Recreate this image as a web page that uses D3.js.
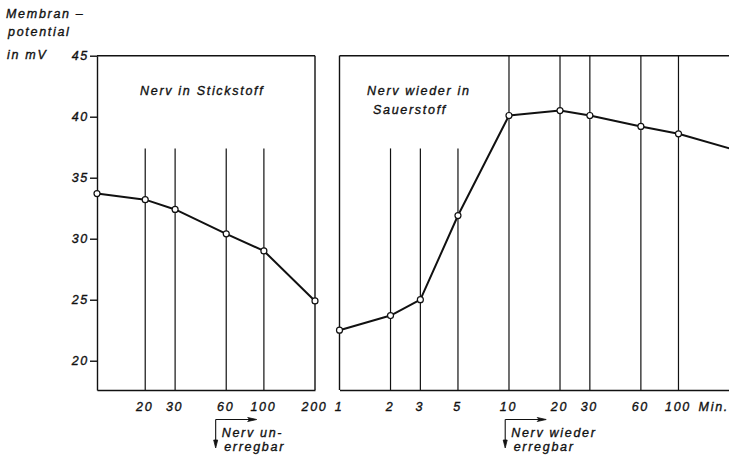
<!DOCTYPE html>
<html>
<head>
<meta charset="utf-8">
<script src="https://cdn.jsdelivr.net/npm/d3@7"></script>
<style>
  html, body { margin: 0; padding: 0; background: #fff; }
  svg { display: block; }
  text {
    font-family: "Liberation Sans", Arial, sans-serif;
    font-style: italic;
    font-size: 12.5px;
    letter-spacing: 1.7px;
    fill: #111;
    stroke: #111;
    stroke-width: 0.35px;
  }
</style>
</head>
<body>
<svg id="chart" width="729" height="464"></svg>
<script>
// Membrane potential of a nerve in nitrogen, then back in oxygen (time in minutes, log axis)
const yTicks = [20, 25, 30, 35, 40, 45];
const yDomain = [17.6, 45];

// Phase 1: nerve in nitrogen
const leftTimes  = [10.4, 20, 30, 60, 100, 200];
const leftValues = [33.7, 33.2, 32.4, 30.4, 29.0, 24.9];
const leftTickValues = [20, 30, 60, 100, 200];
const leftShortGuides = [20, 30, 60, 100];

// Phase 2: nerve back in oxygen
const rightTimes  = [1, 2, 3, 5, 10, 20, 30, 60, 100, 300];
const rightValues = [22.5, 23.7, 25.0, 31.9, 40.1, 40.5, 40.1, 39.2, 38.6, 36.7];
const rightTickValues = [1, 2, 3, 5, 10, 20, 30, 60, 100];
const rightShortGuides = [2, 3, 5];
const rightFullGuides = [10, 20, 30, 60, 100];

const shortGuideTop = 37.4;     // upper end of the short time markers (mV level)
const unexcitableAt = 52;       // minutes in nitrogen
const reexcitableAt = 9.5;      // minutes back in oxygen

const ink = "#111";
const svg = d3.select("#chart");

const y = d3.scaleLinear().domain(yDomain).range([390, 55.7]);
const xL = d3.scaleLog().domain([10.4, 200]).range([97, 315]);
const xR = d3.scaleLog().domain([1, 200]).range([339.5, 729.5]);

// ---- y axis with ticks on the left frame ----
const yAxis = svg.append("g")
  .attr("transform", `translate(${xL.range()[0]},0)`)
  .call(d3.axisLeft(y).tickValues(yTicks).tickSize(7).tickSizeOuter(0).tickPadding(0));
yAxis.selectAll("path, line").attr("stroke", ink).attr("stroke-width", 1.4);
yAxis.selectAll("text").attr("font-size", null).attr("font-family", null).attr("dx", "-1");

// ---- bottom axes (labels only, the domain line is the lower frame) ----
function bottomAxis(scale, values) {
  const g = svg.append("g")
    .attr("transform", `translate(0,${y.range()[0]})`)
    .call(d3.axisBottom(scale).tickValues(values).tickFormat(d3.format("d"))
      .tickSize(0).tickSizeOuter(0).tickPadding(12));
  g.select(".domain").attr("stroke", ink).attr("stroke-width", 1.4);
  g.selectAll("text").attr("font-size", null).attr("font-family", null).attr("dx", "-1");
  return g;
}
bottomAxis(xL, leftTickValues);
bottomAxis(xR, rightTickValues);

// ---- frames ----
const frame = svg.append("g").attr("stroke", ink).attr("stroke-width", 1.4).attr("fill", "none");
frame.append("line")
  .attr("x1", xL.range()[0]).attr("x2", xL(200))
  .attr("y1", y(45)).attr("y2", y(45));
frame.append("line")
  .attr("x1", xL(200)).attr("x2", xL(200))
  .attr("y1", y(45)).attr("y2", y.range()[0]);
frame.append("line")
  .attr("x1", xR(1)).attr("x2", xR.range()[1])
  .attr("y1", y(45)).attr("y2", y(45));
frame.append("line")
  .attr("x1", xR(1)).attr("x2", xR(1))
  .attr("y1", y(45)).attr("y2", y.range()[0]);

// ---- time markers ----
const guides = svg.append("g").attr("stroke", ink).attr("stroke-width", 1.2);
guides.selectAll(".gl").data(leftShortGuides).join("line")
  .attr("x1", d => xL(d)).attr("x2", d => xL(d))
  .attr("y1", y(shortGuideTop)).attr("y2", y.range()[0]);
guides.selectAll(".gr").data(rightShortGuides).join("line")
  .attr("x1", d => xR(d)).attr("x2", d => xR(d))
  .attr("y1", y(shortGuideTop)).attr("y2", y.range()[0]);
guides.selectAll(".gf").data(rightFullGuides).join("line")
  .attr("x1", d => xR(d)).attr("x2", d => xR(d))
  .attr("y1", y(45)).attr("y2", y.range()[0]);

// ---- data lines and points ----
function series(times, values, xs) {
  const pts = times.map((t, i) => [t, values[i]]);
  svg.append("path")
    .datum(pts)
    .attr("fill", "none")
    .attr("stroke", ink)
    .attr("stroke-width", 2)
    .attr("stroke-linejoin", "round")
    .attr("d", d3.line().x(d => xs(d[0])).y(d => y(d[1])));
  svg.append("g").selectAll("circle").data(pts).join("circle")
    .attr("cx", d => xs(d[0])).attr("cy", d => y(d[1]))
    .attr("r", 3)
    .attr("fill", "#fff")
    .attr("stroke", ink)
    .attr("stroke-width", 1.2);
}
series(leftTimes, leftValues, xL);
series(rightTimes, rightValues, xR);

// ---- texts ----
function label(x, yy, str, anchor) {
  svg.append("text").attr("x", x).attr("y", yy)
    .attr("text-anchor", anchor || "start").text(str);
}
label(6, 17.5, "Membran –");
label(8, 36, "potential");
label(7, 59, "in mV");

label(140, 95, "Nerv in Stickstoff");
label(367, 95, "Nerv wieder in");
label(373, 114, "Sauerstoff");

label(729, 411, "Min.", "end");

// ---- event arrows below the time axis ----
function eventArrow(x0, line1, line2) {
  const yTop = 419.5, yBot = 448, xEnd = x0 + 41;
  const g = svg.append("g").attr("stroke", ink).attr("stroke-width", 1.1).attr("fill", ink);
  g.append("line").attr("x1", x0).attr("x2", xEnd - 4).attr("y1", yTop).attr("y2", yTop);
  g.append("line").attr("x1", x0).attr("x2", x0).attr("y1", yTop).attr("y2", yBot - 5);
  g.append("path").attr("stroke-width", 0.8)
    .attr("d", `M${xEnd},${yTop} L${xEnd - 9},${yTop - 2} L${xEnd - 7},${yTop} L${xEnd - 9},${yTop + 2} Z`);
  g.append("path").attr("stroke-width", 0.8)
    .attr("d", `M${x0},${yBot} L${x0 - 2},${yBot - 8} L${x0 + 2},${yBot - 8} Z`);
  label(x0 + 6, 437, line1);
  label(x0 + 8.5, 451, line2);
}
eventArrow(xL(unexcitableAt), "Nerv un-", "erregbar");
eventArrow(xR(reexcitableAt), "Nerv wieder", "erregbar");
</script>
</body>
</html>
